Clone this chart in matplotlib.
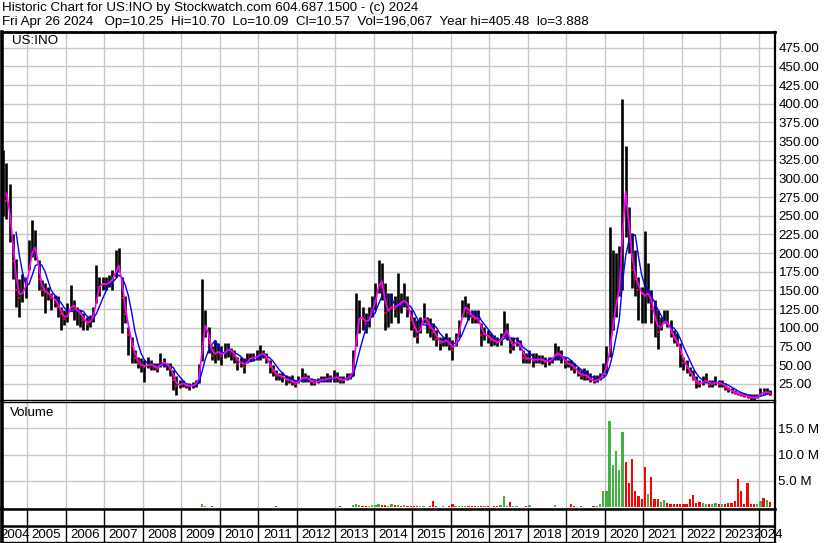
import matplotlib
matplotlib.use("Agg")
import matplotlib.pyplot as plt
import numpy as np
import pandas as pd

plt.rcParams['font.family'] = ['Liberation Sans', 'DejaVu Sans']

# monthly bars for US:INO, May 2004 .. Apr 2024 (one row per year)
close = [
    290, 270, 240, 190, 150, 140, 152, 158,
    190, 210, 205, 165, 150, 148, 145, 140, 137, 128, 118, 112,
    118, 135, 125, 122, 118, 110, 105, 110, 118, 150, 160, 158,
    158, 163, 165, 182, 185, 140, 118, 90, 75, 60, 52, 50,
    48, 52, 50, 48, 45, 55, 53, 50, 45, 30, 22, 25,
    26, 22, 22, 23, 26, 38, 100, 105, 80, 62, 68, 68,
    62, 70, 72, 68, 62, 52, 55, 48, 58, 60, 60, 62,
    65, 66, 58, 48, 42, 36, 36, 34, 30, 30, 28, 25,
    30, 34, 33, 32, 27, 26, 29, 31, 30, 33, 32, 34,
    33, 30, 30, 33, 34, 48, 110, 115, 112, 105, 115, 130,
    140, 170, 155, 120, 125, 130, 125, 135, 132, 140, 125, 110,
    100, 88, 105, 118, 105, 100, 95, 85, 80, 82, 84, 78,
    70, 82, 100, 125, 130, 120, 115, 112, 113, 90, 92, 88,
    84, 82, 80, 84, 95, 98, 72, 80, 82, 75, 60, 58,
    60, 56, 58, 58, 57, 54, 56, 58, 68, 64, 62, 52,
    52, 50, 45, 40, 36, 38, 34, 30, 29, 30, 33, 42,
    50, 85, 115, 145, 155, 295, 270, 215, 178, 165, 150, 145,
    142, 150, 125, 110, 95, 106, 110, 105, 93, 85, 80, 65,
    53, 46, 39, 32, 26, 25, 28, 30, 24, 25, 28, 25,
    25, 21, 17, 15, 13, 12, 10, 9, 8, 6.5, 6, 8,
    14, 13, 15, 10.6,
]
high = [
    338, 320, 292, 225, 192, 165, 172, 168,
    218, 244, 231, 191, 164, 160, 155, 147, 144, 142, 128, 124,
    133, 157, 137, 128, 124, 120, 115, 117, 128, 184, 168, 168,
    168, 171, 177, 204, 207, 168, 142, 101, 88, 70, 61, 59,
    57, 61, 57, 53, 53, 66, 59, 53, 53, 43, 35, 30,
    30, 26, 26, 28, 30, 52, 166, 124, 101, 75, 84, 80,
    75, 80, 80, 73, 70, 61, 61, 59, 66, 66, 66, 70,
    77, 70, 66, 57, 50, 43, 39, 41, 37, 35, 37, 30,
    35, 46, 39, 37, 33, 30, 33, 35, 35, 39, 37, 43,
    41, 35, 35, 39, 39, 70, 147, 137, 128, 120, 128, 142,
    160, 191, 187, 160, 147, 147, 142, 173, 147, 160, 142, 124,
    115, 110, 115, 133, 115, 113, 106, 97, 88, 88, 93, 88,
    84, 93, 110, 137, 142, 133, 124, 124, 124, 106, 101, 97,
    93, 90, 88, 93, 122, 106, 88, 88, 88, 84, 70, 66,
    70, 66, 66, 64, 64, 61, 61, 61, 80, 75, 70, 61,
    57, 57, 53, 48, 43, 46, 43, 39, 37, 37, 39, 53,
    75, 235, 204, 200, 209, 406, 343, 262, 227, 204, 168, 155,
    229, 187, 151, 137, 124, 115, 124, 124, 110, 97, 93, 80,
    61, 57, 48, 43, 35, 30, 35, 39, 30, 30, 35, 30,
    30, 26, 21, 19, 17, 14, 13, 12.7, 12, 11, 11, 12,
    19, 19, 20, 17,
]
low = [
    250, 245, 215, 165, 128, 115, 135, 140,
    177, 195, 191, 151, 142, 120, 137, 124, 128, 115, 97, 104,
    108, 124, 110, 104, 101, 97, 97, 101, 108, 133, 142, 151,
    151, 155, 151, 168, 175, 93, 106, 64, 53, 53, 46, 41,
    28, 46, 43, 43, 41, 48, 48, 43, 35, 17, 10, 19,
    21, 19, 17, 19, 21, 26, 55, 88, 66, 57, 53, 57,
    50, 59, 61, 57, 53, 43, 48, 39, 53, 55, 55, 57,
    57, 59, 53, 39, 35, 30, 30, 28, 23, 26, 23, 21,
    26, 28, 28, 28, 23, 23, 26, 28, 28, 28, 28, 28,
    28, 26, 26, 30, 32, 35, 75, 93, 97, 93, 101, 115,
    124, 147, 137, 97, 101, 106, 115, 106, 120, 128, 115, 97,
    88, 80, 93, 106, 93, 88, 84, 75, 70, 75, 75, 70,
    57, 75, 88, 115, 115, 110, 106, 106, 106, 75, 84, 80,
    75, 77, 75, 77, 88, 84, 66, 70, 75, 70, 53, 53,
    53, 48, 53, 53, 52, 48, 50, 53, 57, 57, 53, 46,
    48, 43, 39, 35, 32, 30, 30, 28, 26, 28, 30, 35,
    39, 61, 97, 115, 142, 150, 222, 200, 153, 142, 110, 106,
    106, 133, 106, 88, 72, 97, 106, 101, 88, 80, 75, 48,
    43, 39, 35, 30, 19, 21, 23, 26, 21, 21, 23, 21,
    21, 17, 14, 13, 11, 10, 9, 8, 6, 4, 3.9, 6,
    10, 10, 12, 10,
]
# volume in millions of shares
volume = [
    0, 0, 0, 0, 0, 0, 0, 0,
    0, 0, 0, 0, 0, 0, 0, 0, 0, 0, 0, 0,
    0, 0, 0, 0, 0, 0, 0, 0, 0, 0, 0, 0,
    0, 0, 0, 0, 0, 0, 0, 0, 0, 0, 0, 0,
    0, 0, 0, 0, 0, 0, 0, 0, 0, 0, 0, 0,
    0, 0, 0, 0, 0, 0, 0.6, 0.1, 0, 0.15, 0, 0,
    0, 0, 0, 0, 0, 0, 0, 0, 0, 0, 0, 0,
    0, 0, 0, 0, 0, 0.1, 0, 0, 0, 0, 0, 0,
    0, 0, 0, 0, 0, 0, 0, 0, 0, 0, 0, 0,
    0, 0.15, 0, 0, 0, 0.3, 0.5, 0.3, 0.2, 0.1, 0.2, 0.3,
    0.3, 0.5, 0.4, 0.3, 0.2, 0.5, 0.3, 0.4, 0.2, 0.3, 0.1, 0.1,
    0.2, 0.1, 0.2, 0.1, 0.05, 0.1, 1.2, 0.1, 0.05, 0.2, 0.05, 0.2,
    0.5, 0.15, 0.1, 0.15, 0.1, 0.1, 0.1, 0.1, 0.1, 0.1, 0.1, 0.1,
    0.05, 0.1, 0.1, 0.3, 2.0, 0.2, 1.0, 0.1, 0.1, 0.05, 0.05, 0.1,
    0.3, 0.05, 0.05, 0.05, 0.05, 0.05, 0.05, 0.05, 0.3, 0.05, 0.05, 0.05,
    0.05, 0.5, 0.1, 0.05, 0.1, 0.05, 0.05, 0.05, 0.1, 0.2, 0.5, 3.0,
    3.1, 16.4, 8.1, 10.6, 7.0, 14.3, 8.6, 4.5, 9.1, 3.0, 2.0, 1.5,
    7.7, 2.5, 5.7, 1.5, 1.5, 1.0, 1.4, 0.8, 0.6, 0.6, 0.5, 0.6,
    0.6, 0.5, 1.6, 2.2, 0.8, 0.9, 0.7, 0.6, 0.5, 0.6, 0.7, 0.6,
    0.6, 0.5, 0.8, 0.8, 1.2, 5.3, 3.0, 0.6, 4.5, 0.6, 0.5, 0.5,
    1.2, 1.7, 1.4, 1.0,
]

years = list(range(2004, 2025))
price_ticks = list(range(25, 500, 25))
vol_ticks = [5, 10, 15]

assert len(close) == len(high) == len(low) == len(volume) == 240

n = len(close)
t = 2004 + (4 + np.arange(n) + 0.5) / 12.0
cl = pd.Series(close)
ma_fast = cl.rolling(2).mean()
ma_slow = cl.rolling(5).mean()
down = np.r_[False, np.diff(close) < 0]

W, H = 830, 543
FS = 9.6
fig = plt.figure(figsize=(W / 100, H / 100), dpi=100)
xmin, xmax = 2004.343, 2024.421


def fig_box(x0, y0, x1, y1):
    return [x0 / W, 1 - y1 / H, (x1 - x0) / W, (y1 - y0) / H]


ax = fig.add_axes(fig_box(2, 32, 775, 400))
axv = fig.add_axes(fig_box(2, 402, 775, 509))
axy = fig.add_axes(fig_box(2, 509, 775, 542))

grid_col = '#c8c8c8'
for a in (ax, axv):
    a.set_xlim(xmin, xmax)
    a.set_xticks(years[1:])
    a.set_xticklabels([])
    a.grid(True, color=grid_col, lw=1.0, zorder=0)
    a.set_axisbelow(True)
    a.yaxis.tick_right()
    a.tick_params(axis='x', length=0)
    a.tick_params(axis='y', length=0, pad=2.5, labelsize=FS)
    for s in a.spines.values():
        s.set_color('black')
    a.spines['left'].set_linewidth(2.6)
    a.spines['right'].set_linewidth(1.6)
    a.spines['top'].set_linewidth(1.0)
    a.spines['bottom'].set_linewidth(1.0)

# price panel
ax.set_ylim(3.35, 496)
ax.set_yticks(price_ticks)
ax.set_yticklabels(['%.2f' % v for v in price_ticks])
ax.spines['top'].set_linewidth(2.0)
ax.vlines(t, low, high, color='black', lw=1.9, zorder=2)
ax.plot(t[down], cl[down], ls='none', marker='s', ms=1.8, color='red',
        mew=0, zorder=3)
ax.plot(t, ma_slow, color='#0000ff', lw=1.0, zorder=4)
ax.plot(t, ma_fast, color='#ff00ff', lw=1.2, zorder=5)
ax.text(10 / 773, 0.975, 'US:INO', transform=ax.transAxes, fontsize=FS,
        va='center', ha='left')

# volume panel
vcol = np.where(down, '#ff0000', '#44b044')
axv.set_ylim(-0.4, 20.06)
axv.set_yticks(vol_ticks)
axv.set_yticklabels(['%.1f M' % v for v in vol_ticks])
axv.bar(t, volume, width=0.7 / 12, color=vcol, lw=0, zorder=2)
axv.text(8 / 773, 0.9, 'Volume', transform=axv.transAxes, fontsize=FS,
         va='center', ha='left')

# year strip
axy.set_xlim(xmin, xmax)
axy.set_ylim(0, 1)
axy.set_xticks([])
axy.set_yticks([])
for s in axy.spines.values():
    s.set_color('black')
axy.spines['left'].set_linewidth(2.6)
axy.spines['right'].set_linewidth(1.6)
axy.spines['top'].set_linewidth(1.8)
axy.spines['bottom'].set_linewidth(1.0)
axy.vlines(years[1:], 0, 1, color='black', lw=1.0)
axy.axhline(0.5, color='black', lw=1.8)
for y in years:
    lo, hi = max(y, xmin), min(y + 1, xmax)
    xc = (lo + hi) / 2
    if y == years[-1]:
        xc = xmax - 0.19   # squeezed against the right edge, as in the source
    axy.text(xc, 0.22, str(y), ha='center', va='center',
             fontsize=FS, clip_on=(y == years[0]))

# header
fig.text(2 / W, 1 - 8.5 / H,
         'Historic Chart for US:INO by Stockwatch.com 604.687.1500 - (c) 2024',
         fontsize=FS, va='center', ha='left')
fig.text(2 / W, 1 - 22.5 / H,
         'Fri Apr 26 2024   Op=10.25  Hi=10.70  Lo=10.09  Cl=10.57  '
         'Vol=196,067  Year hi=405.48  lo=3.888',
         fontsize=FS, va='center', ha='left')

fig.savefig('out.png', dpi=100)
